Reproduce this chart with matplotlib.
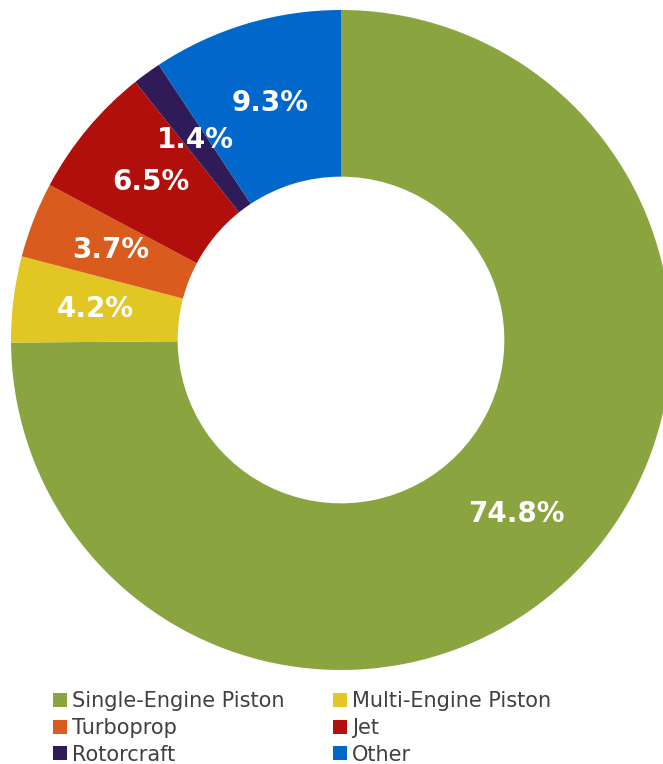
import matplotlib
matplotlib.use("Agg")
import matplotlib.pyplot as plt
from matplotlib.patches import Patch

categories = ["Single-Engine Piston", "Multi-Engine Piston", "Turboprop", "Jet", "Rotorcraft", "Other"]
values = [74.8, 4.2, 3.7, 6.5, 1.4, 9.3]
colors = ["#8AA53F", "#E2C623", "#D95B1E", "#B10F0B", "#2F1B58", "#0267CA"]

W, H = 663, 764
fig = plt.figure(figsize=(W / 100, H / 100), dpi=100)
ax = fig.add_axes([0, 0, 1, 1])
cx, cy, R = 341, 340, 330

wedges, texts = ax.pie(values, colors=colors, startangle=90, counterclock=False,
                       radius=1.0, wedgeprops=dict(width=0.505, linewidth=0),
                       labels=[f"{v:.1f}%" for v in values], labeldistance=0.75,
                       normalize=True)
for t in texts:
    t.set_color("white")
    t.set_fontweight("bold")
    t.set_fontsize(20)
    t.set_ha("center")
    t.set_va("center")
ax.set_xlim(-cx / R, (W - cx) / R)
ax.set_ylim(-(H - cy) / R, cy / R)
ax.set_aspect("auto")
ax.axis("off")

order = [0, 2, 4, 1, 3, 5]
handles = [Patch(facecolor=colors[i], edgecolor="none") for i in order]
labels = [categories[i] for i in order]
fig.legend(handles, labels, ncol=2, loc="upper left",
           bbox_to_anchor=(53 / W, 1 - 691 / H), frameon=False,
           borderpad=0, borderaxespad=0,
           fontsize=15, handlelength=0.65, handleheight=0.65,
           handletextpad=0.25, columnspacing=2.35, labelspacing=0.33,
           labelcolor="#404040")

fig.savefig("out.png", dpi=100)
